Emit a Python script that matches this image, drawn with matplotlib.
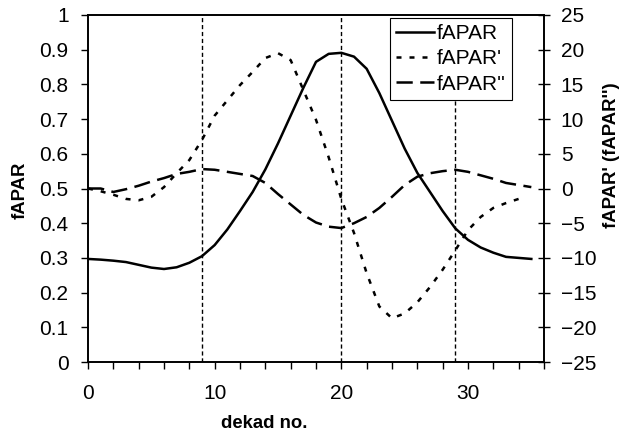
import matplotlib
matplotlib.use("Agg")
import matplotlib.pyplot as plt

plt.rcParams['font.family'] = ['Liberation Sans', 'DejaVu Sans']

dekad = list(range(36))
fapar = [0.297, 0.295, 0.292, 0.288, 0.280, 0.272, 0.268, 0.273, 0.286, 0.305,
         0.337, 0.382, 0.435, 0.490, 0.555, 0.630, 0.710, 0.790, 0.865, 0.888,
         0.891, 0.880, 0.845, 0.775, 0.695, 0.615, 0.545, 0.490, 0.435, 0.385,
         0.352, 0.330, 0.315, 0.303, 0.300, 0.297]

dekad_d1 = list(range(35))
fapar_d1 = [0.0, -0.4, -0.9, -1.5, -1.7, -1.2, 0.2, 2.2, 4.1, 7.0,
            10.5, 12.7, 14.9, 16.8, 18.8, 19.5, 18.5, 14.2, 9.9, 4.5,
            -1.5, -6.4, -12.2, -17.0, -18.7, -18.0, -16.4, -14.2, -11.7, -8.9,
            -6.0, -4.1, -2.8, -2.1, -1.5]

fapar_d2 = [0.0, 0.0, -0.5, -0.1, 0.4, 1.0, 1.5, 2.1, 2.4, 2.8,
            2.7, 2.4, 2.1, 1.8, 0.8, -0.8, -2.3, -3.8, -4.9, -5.5,
            -5.7, -5.0, -4.1, -2.8, -1.2, 0.5, 1.7, 2.2, 2.5, 2.7,
            2.4, 1.9, 1.4, 0.8, 0.5, 0.2]

vlines_x = [9, 20, 29]
left_ticks = [0, 0.1, 0.2, 0.3, 0.4, 0.5, 0.6, 0.7, 0.8, 0.9, 1]
left_ticklabels = ['0', '0.1', '0.2', '0.3', '0.4', '0.5', '0.6', '0.7', '0.8', '0.9', '1']
right_ticks = [-25, -20, -15, -10, -5, 0, 5, 10, 15, 20, 25]
x_major = [0, 10, 20, 30]

fig = plt.figure(figsize=(6.25, 4.38), dpi=100)
ax = fig.add_axes([88/625, 1-362/438, (544-88)/625, (362-15)/438])
ax2 = ax.twinx()

fs = 15
fs_lab = 13.3
for xv in vlines_x:
    ax.axvline(xv, color='black', lw=1.0, ls=(0, (3, 2)), zorder=1)

l1, = ax.plot(dekad, fapar, color='black', lw=1.8, label='fAPAR', zorder=3)
l2, = ax2.plot(dekad_d1, fapar_d1, color='black', lw=1.8, ls=(0, (2, 3.2)), label="fAPAR'")
l3, = ax2.plot(dekad, fapar_d2, color='black', lw=1.8, ls=(0, (6.5, 3)), label="fAPAR''")

ax.set_xlim(0, 36)
ax.set_ylim(0, 1)
ax2.set_ylim(-25, 25)
ax.set_yticks(left_ticks)
ax.set_yticklabels(left_ticklabels)
ax2.set_yticks(right_ticks)
ax.set_xticks(x_major)
ax.set_xticks(list(range(0, 37, 2)), minor=True)

ax.tick_params(axis='y', direction='out', length=5, width=1, labelsize=fs, pad=9)
ax.tick_params(axis='x', which='both', direction='out', length=5, width=1, labelsize=fs, pad=11)
ax2.tick_params(axis='y', direction='inout', length=8, width=1, labelsize=fs, pad=8)

for a in (ax, ax2):
    for s in a.spines.values():
        s.set_linewidth(1.2)

fig.text(20/625, 1-190/438, 'fAPAR', rotation=90, fontsize=fs_lab, fontweight='bold',
         ha='center', va='center')
fig.text(612/625, 1-155/438, "fAPAR' (fAPAR'')", rotation=90, fontsize=fs_lab, fontweight='bold',
         ha='center', va='center')
fig.text(264/625, 1-424/438, 'dekad no.', fontsize=fs_lab, fontweight='bold',
         ha='center', va='center')

leg = ax2.legend(handles=[l1, l2, l3], loc='upper left',
                 bbox_to_anchor=((390-88)/456, 1-(18-15)/347),
                 frameon=True, fancybox=False, framealpha=1, edgecolor='black',
                 fontsize=fs, handlelength=1.8, handletextpad=0.15,
                 labelspacing=0.3, borderpad=0.3, borderaxespad=0)
leg.get_frame().set_linewidth(0.8)

fig.savefig('out.png', dpi=100)
